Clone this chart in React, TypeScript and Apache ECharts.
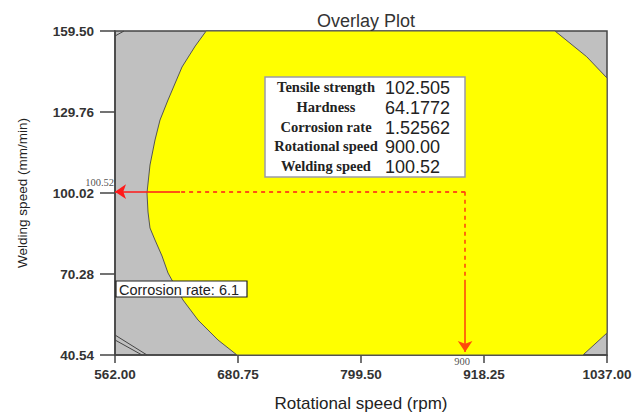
import React, { useEffect, useRef } from "react";
import * as echarts from "echarts";

// Axis ticks
const xTicks = [562.0, 680.75, 799.5, 918.25, 1037.0];
const yTicks = [40.54, 70.28, 100.02, 129.76, 159.5];

// Yellow (feasible) region boundary, in data coordinates
const regionX = [650.0, 986.8, 1017.4, 1037.0, 1037.0, 1025.4, 1013.8, 679.78, 661.44, 642.13, 627.65, 613.17, 607.38, 600.62, 595.79, 593.86, 592.89, 595.79, 600.62, 605.45, 613.17, 626.69, 639.5];
const regionY = [159.5, 159.5, 150.06, 142.24, 48.62, 44.58, 40.54, 40.54, 46.05, 53.39, 60.73, 70.65, 76.89, 82.76, 87.17, 93.04, 100.02, 110.3, 119.48, 126.82, 134.17, 146.28, 154.0];

// Contour fragments in the gray area
const contourA = [[562.0, 47.88], [592.9, 40.54]];
const contourB = [[562.0, 46.05], [588.1, 40.54]];
const contourC = [[562.0, 157.66], [570.7, 159.5]];

// Selected optimum
const optX = 900.0;
const optY = 100.52;
const hSolidStart = 624.8;
const vSolidStart = 66.98;
const vTip = 41.6;

// Info box
const infoLabels = ["Tensile strength", "Hardness", "Corrosion rate", "Rotational speed", "Welding speed"];
const infoValues = ["102.505", "64.1772", "1.52562", "900.00", "100.52"];

export default function App() {
  const ref = useRef<HTMLDivElement>(null);
  useEffect(() => {
    if (!ref.current) return;
    const chart = echarts.init(ref.current, undefined, { renderer: "svg" });
    const tickFont = { fontFamily: "Liberation Sans", fontSize: 13.5, fontWeight: "bold" as const, color: "#333" };

    const infoGraphics: any[] = [
      {
        type: "rect",
        shape: { x: 265, y: 77, width: 200, height: 100 },
        style: { fill: "#ffffff", stroke: "#9a9aa8", lineWidth: 1.5 },
        z: 100,
      },
    ];
    infoLabels.forEach((lab, i) => {
      const cy = 87 + i * 19.8;
      infoGraphics.push({
        type: "text",
        x: 326,
        y: cy,
        style: { text: lab, fontFamily: "Liberation Serif", fontSize: 14.5, fontWeight: "bold", fill: "#222", align: "center", verticalAlign: "middle" },
        z: 101,
      });
      infoGraphics.push({
        type: "text",
        x: 385,
        y: cy + 1,
        style: { text: infoValues[i], fontFamily: "Liberation Sans", fontSize: 18, fill: "#222", align: "left", verticalAlign: "middle" },
        z: 101,
      });
    });
    infoGraphics.push({
      type: "rect",
      shape: { x: 116, y: 281, width: 131, height: 16 },
      style: { fill: "#ffffff", stroke: "#222", lineWidth: 1.2 },
      z: 100,
    });
    infoGraphics.push({
      type: "text",
      x: 119,
      y: 289.5,
      style: { text: "Corrosion rate: 6.1", fontFamily: "Liberation Sans", fontSize: 14.5, fill: "#222", align: "left", verticalAlign: "middle" },
      z: 101,
    });

    chart.setOption({
      animation: false,
      backgroundColor: "#ffffff",
      title: {
        text: "Overlay Plot",
        left: 361,
        top: 7,
        textAlign: "center",
        textStyle: { fontFamily: "Liberation Sans", fontSize: 18, fontWeight: "normal", color: "#333" },
      },
      grid: {
        left: 115,
        right: 37,
        top: 31,
        bottom: 62,
        show: true,
        backgroundColor: "#c0c0c0",
        borderColor: "#444",
        borderWidth: 1.5,
      },
      xAxis: {
        type: "value",
        min: 562,
        max: 1037,
        name: "Rotational speed (rpm)",
        nameLocation: "middle",
        nameGap: 40,
        nameTextStyle: { fontFamily: "Liberation Sans", fontSize: 17, color: "#222" },
        axisLine: { lineStyle: { color: "#444", width: 1.5 } },
        axisTick: { show: true, length: 8, customValues: xTicks, lineStyle: { color: "#444", width: 1.5 } },
        axisLabel: { customValues: xTicks, margin: 12, formatter: (v: number) => v.toFixed(2), ...tickFont },
        splitLine: { show: false },
      },
      yAxis: {
        type: "value",
        min: 40.54,
        max: 159.5,
        name: "Welding speed (mm/min)",
        nameLocation: "middle",
        nameGap: 86,
        nameTextStyle: { fontFamily: "Liberation Sans", fontSize: 13.5, color: "#222" },
        axisLine: { lineStyle: { color: "#444", width: 1.5 } },
        axisTick: { show: true, length: 15, customValues: yTicks, lineStyle: { color: "#444", width: 1.5 } },
        axisLabel: { customValues: yTicks, margin: 21, formatter: (v: number) => v.toFixed(2), ...tickFont },
        splitLine: { show: false },
      },
      series: [
        {
          type: "custom",
          data: [0],
          renderItem: (_p: any, api: any) => {
            const pts = regionX.map((x, i) => api.coord([x, regionY[i]]));
            return {
              type: "polygon",
              shape: { points: pts },
              style: { fill: "#ffff00", stroke: "#555", lineWidth: 1 },
            };
          },
          z: 1,
          silent: true,
        },
        ...[contourA, contourB, contourC].map((d) => ({
          type: "line",
          data: d,
          symbol: "none",
          lineStyle: { color: "#444", width: 1 },
          z: 3,
          silent: true,
        })),
        {
          type: "lines",
          coordinateSystem: "cartesian2d",
          z: 5,
          silent: true,
          data: [
            { coords: [[optX, optY], [hSolidStart, optY]], lineStyle: { type: [4, 4], color: "#ff1a1a", width: 1.6, opacity: 1 } },
            { coords: [[optX, optY], [optX, vSolidStart]], lineStyle: { type: [4, 4], color: "#ff4a0a", width: 1.6, opacity: 1 } },
          ],
          lineStyle: { opacity: 1 },
          symbol: ["none", "none"],
        },
        {
          type: "lines",
          coordinateSystem: "cartesian2d",
          z: 5,
          silent: true,
          symbol: ["none", "arrow"],
          symbolSize: 11,
          lineStyle: { opacity: 1 },
          data: [
            { coords: [[hSolidStart, optY], [562, optY]], lineStyle: { color: "#ff1a1a", width: 1.6, opacity: 1 } },
            { coords: [[optX, vSolidStart], [optX, vTip]], lineStyle: { color: "#ff4a0a", width: 1.6, opacity: 1 } },
          ],
        },
        {
          type: "scatter",
          symbolSize: 0,
          clip: false,
          silent: true,
          z: 6,
          data: [
            { value: [562, optY], label: { show: true, position: "left", distance: 1, offset: [0, -9], formatter: optY.toFixed(2) } },
            { value: [optX, 40.54], label: { show: true, position: "bottom", distance: 1, offset: [-3, 0], formatter: String(optX) } },
          ],
          label: { fontFamily: "Liberation Serif", fontSize: 10.5, color: "#222" },
        },
      ],
      graphic: infoGraphics,
    });
    return () => chart.dispose();
  }, []);
  return <div ref={ref} style={{ position: "absolute", left: 0, top: 0, width: 644, height: 417 }} />;
}
